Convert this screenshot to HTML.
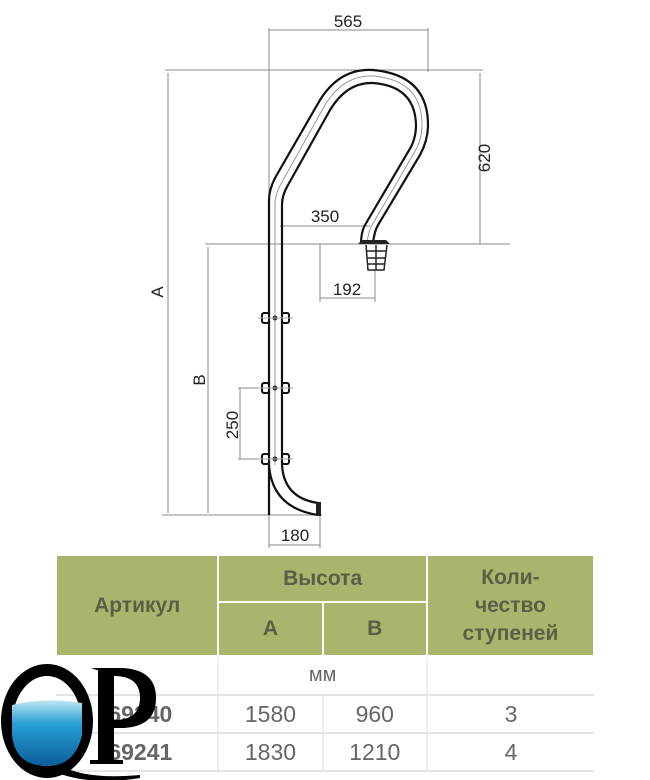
<!DOCTYPE html>
<html><head><meta charset="utf-8"><style>
body{margin:0;background:#fff;width:650px;height:780px;overflow:hidden;position:relative;font-family:"Liberation Sans",sans-serif}
svg{position:absolute;left:0;top:0}
table{position:absolute;left:55px;top:554px;border-collapse:collapse;width:540px}
td{text-align:center;color:#666;font-size:23px;padding:0}
.h{background:#a8b56d;color:#5b5f45;font-weight:bold;font-size:21px;border:2px solid #fff}
.r td{border-left:2px solid #eee;border-bottom:2px solid #e4e4e4}
</style></head><body>
<svg width="650" height="560" viewBox="0 0 650 560">
<g stroke="#888" stroke-width="1" fill="none">
<line x1="269" y1="28" x2="269" y2="548"/>
<line x1="428" y1="28" x2="428" y2="72"/>
<line x1="269" y1="30" x2="428" y2="30"/>
<line x1="165" y1="70" x2="483" y2="70"/>
<line x1="480" y1="73" x2="480" y2="244"/>
<line x1="205" y1="244" x2="510" y2="244"/>
<line x1="168" y1="73" x2="168" y2="513"/>
<line x1="208" y1="247" x2="208" y2="513"/>
<line x1="162" y1="515" x2="322" y2="515"/>
<line x1="280" y1="226" x2="370" y2="226"/>
<line x1="320" y1="244" x2="320" y2="302"/>
<line x1="375" y1="270" x2="375" y2="302"/>
<line x1="320" y1="298" x2="375" y2="298"/>
<line x1="320" y1="515" x2="320" y2="548"/>
<line x1="269" y1="545" x2="320" y2="545"/>
<line x1="240" y1="388" x2="240" y2="459"/>
<line x1="238" y1="388" x2="262" y2="388"/>
<line x1="238" y1="459" x2="262" y2="459"/>
</g>
<g font-family="Liberation Sans Narrow, Liberation Sans, sans-serif" font-size="17" fill="#222" text-anchor="middle">
<text x="348" y="27">565</text>
<text x="325" y="222">350</text>
<text x="347" y="295">192</text>
<text x="295" y="541">180</text>
<text transform="translate(490,158) rotate(-90)">620</text>
<text transform="translate(163,292) rotate(-90)">A</text>
<text transform="translate(205,380) rotate(-90)">B</text>
<text transform="translate(238,425) rotate(-90)">250</text>
</g>
<g fill="none" stroke="#111" stroke-width="2.2">
<path d="M269,515 Q269,488 269,465 L269,200 Q269,190 275,178 L320,100 Q340,68 373,70 Q428,75 428,125 Q428,140 420,155 L378,225 Q374,232 373,244"/>
<path d="M282,465 L282,205 Q282,195 288,185 L330,110 Q347,82 373,83 Q415,86 416,125 Q416,140 408,152 L365,225 Q361,232 361,244"/>
<path d="M269,465 Q272,508 318,515 M282,465 Q284,498 318,503"/>
</g>
<g fill="none" stroke="#999" stroke-width="1">
<path d="M275,465 L275,202 Q276,192 282,182 L325,105 Q343,75 373,76 Q422,80 422,125 Q422,140 414,153 L372,225 Q368,232 367,244"/>
</g>
<rect x="316" y="502" width="5" height="14" fill="#222"/>
<g fill="#fff" stroke="#111" stroke-width="2">
<rect x="262" y="313" width="7" height="10" rx="2"/><rect x="282" y="313" width="7" height="10" rx="2"/>
<rect x="262" y="383" width="7" height="10" rx="2"/><rect x="282" y="383" width="7" height="10" rx="2"/>
<rect x="262" y="454" width="7" height="10" rx="2"/><rect x="282" y="454" width="7" height="10" rx="2"/>
</g>
<g fill="#333"><circle cx="275" cy="318" r="2.5"/><circle cx="275" cy="388" r="2.5"/><circle cx="275" cy="459" r="2.5"/></g>
<g stroke="#aaa"><line x1="258" y1="318" x2="293" y2="318"/><line x1="258" y1="388" x2="293" y2="388"/><line x1="258" y1="459" x2="293" y2="459"/></g>
<path d="M358,244 L362,240 L386,240 L390,244 Z" fill="#222"/>
<g fill="none" stroke="#222" stroke-width="1.5">
<path d="M366,245 L368,270 L384,270 L387,245"/>
<line x1="367" y1="251" x2="386" y2="251"/><line x1="367" y1="258" x2="386" y2="258"/><line x1="368" y1="264" x2="385" y2="264"/>
<line x1="376" y1="245" x2="376" y2="270"/>
</g>
</svg>
<table>
<tr style="height:47px"><td class="h" rowspan="2" style="width:161px">Артикул</td><td class="h" colspan="2">Высота</td><td class="h" rowspan="2" style="width:166px;line-height:28px">Коли-<br>чество<br>ступеней</td></tr>
<tr style="height:54px"><td class="h" style="width:103px">A</td><td class="h" style="width:103px">B</td></tr>
<tr class="r" style="height:39px"><td style="border-left:none"></td><td colspan="2" style="font-size:20px">мм</td><td></td></tr>
<tr class="r" style="height:38px"><td style="border-left:none;font-weight:bold;text-align:right;padding-right:45px">69240</td><td>1580</td><td>960</td><td>3</td></tr>
<tr class="r" style="height:38px"><td style="border-left:none;font-weight:bold;text-align:right;padding-right:45px">69241</td><td>1830</td><td>1210</td><td>4</td></tr>
</table>
<svg width="170" height="130" viewBox="0 650 170 130" style="top:650px">
<defs><linearGradient id="w" x1="0" y1="0" x2="0" y2="1"><stop offset="0" stop-color="#bfe6f2"/><stop offset="0.35" stop-color="#2a9fd6"/><stop offset="1" stop-color="#0a5d9a"/></linearGradient></defs>
<ellipse cx="47" cy="721" rx="40" ry="51" fill="none" stroke="#000" stroke-width="12"/>
<path d="M12,705 Q45,697 82,703 L82,735 Q75,766 47,766 Q15,766 12,735 Z" fill="url(#w)"/>
<path d="M60,765 Q85,780 140,775 L140,778 Q90,786 55,772 Z" fill="#000"/>
<rect x="98" y="668" width="16" height="94" fill="#000"/>
<path d="M91,668 L123,668 Q156,670 156,698 Q156,728 120,728 L114,728 L114,720 Q140,720 140,698 Q140,676 114,676 Z" fill="#000"/>
<rect x="90" y="760" width="33" height="4" fill="#000"/>
</svg>
</body></html>
